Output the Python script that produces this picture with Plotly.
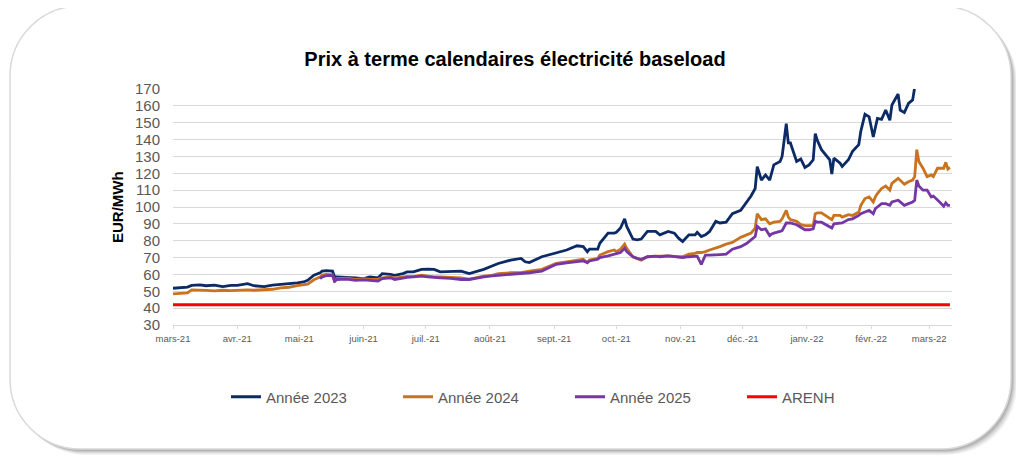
import plotly.graph_objects as go

# ---------------- data ----------------
dates = [
    "2021-03-01", "2021-03-05", "2021-03-08", "2021-03-10", "2021-03-14", "2021-03-17", "2021-03-21",
    "2021-03-25", "2021-03-29", "2021-04-01", "2021-04-06", "2021-04-09", "2021-04-14", "2021-04-18",
    "2021-04-22", "2021-04-26", "2021-04-30", "2021-05-03", "2021-05-05", "2021-05-08", "2021-05-11",
    "2021-05-12", "2021-05-14", "2021-05-17", "2021-05-18", "2021-05-19", "2021-05-24", "2021-05-28",
    "2021-06-01", "2021-06-04", "2021-06-08", "2021-06-10", "2021-06-14", "2021-06-16", "2021-06-20",
    "2021-06-22", "2021-06-25", "2021-06-29", "2021-07-02", "2021-07-05", "2021-07-08", "2021-07-13",
    "2021-07-18", "2021-07-22", "2021-07-26", "2021-07-29", "2021-08-02", "2021-08-05", "2021-08-11",
    "2021-08-16", "2021-08-18", "2021-08-20", "2021-08-26", "2021-09-02", "2021-09-07", "2021-09-12",
    "2021-09-15", "2021-09-17", "2021-09-18", "2021-09-22", "2021-09-23", "2021-09-27", "2021-09-30",
    "2021-10-01", "2021-10-03", "2021-10-05", "2021-10-06", "2021-10-09", "2021-10-11", "2021-10-13",
    "2021-10-16", "2021-10-20", "2021-10-22", "2021-10-26", "2021-10-29", "2021-10-31", "2021-11-02",
    "2021-11-05", "2021-11-08", "2021-11-09", "2021-11-11", "2021-11-13", "2021-11-15", "2021-11-18",
    "2021-11-20", "2021-11-23", "2021-11-26", "2021-11-30", "2021-12-03", "2021-12-05", "2021-12-07",
    "2021-12-08", "2021-12-10", "2021-12-12", "2021-12-14", "2021-12-15", "2021-12-16", "2021-12-19",
    "2021-12-20", "2021-12-22", "2021-12-23", "2021-12-24", "2021-12-27", "2021-12-29", "2021-12-31",
    "2022-01-02", "2022-01-04", "2022-01-05", "2022-01-06", "2022-01-08", "2022-01-10", "2022-01-12",
    "2022-01-13", "2022-01-14", "2022-01-17", "2022-01-18", "2022-01-21", "2022-01-23", "2022-01-26",
    "2022-01-27", "2022-01-29", "2022-01-31", "2022-02-02", "2022-02-03", "2022-02-04", "2022-02-06",
    "2022-02-08", "2022-02-10", "2022-02-11", "2022-02-14", "2022-02-15", "2022-02-17", "2022-02-19",
    "2022-02-21", "2022-02-22", "2022-02-23", "2022-02-24", "2022-02-26", "2022-02-28", "2022-03-02",
    "2022-03-03", "2022-03-05", "2022-03-06", "2022-03-08", "2022-03-09", "2022-03-10", "2022-03-11",
]

annee_2023 = [
    51.8, 52.0, 52.5, 53.5, 53.8, 53.3, 53.6,
    52.8, 53.5, 53.5, 54.5, 53.3, 52.8, 53.6,
    54.0, 54.3, 55.0, 55.5, 56.5, 59.5, 61.0,
    62.0, 62.3, 62.0, 58.5, 58.6, 58.5, 58.0,
    57.5, 58.5, 58.0, 60.5, 60.0, 59.5, 60.5,
    61.5, 61.5, 63.0, 63.2, 63.0, 61.5, 61.8,
    62.0, 60.5, 62.0, 63.0, 65.0, 66.5, 68.5,
    69.5, 67.5, 67.0, 70.5, 73.0, 74.5, 77.0,
    76.5, 73.5, 75.0, 75.0, 78.5, 84.5, 84.5,
    85.0, 87.5, 93.0, 88.5, 81.0, 80.5, 81.0,
    85.5, 85.5, 83.5, 85.5, 84.5, 81.5, 79.5,
    83.5, 83.5, 85.0, 82.5, 83.5, 85.5, 91.5,
    90.5, 91.0, 96.0, 98.0, 103.0, 106.5, 111.0,
    124.0, 116.0, 119.0, 116.0, 120.0, 125.0, 127.0,
    130.0, 149.5, 138.0, 138.0, 127.0, 128.5, 123.5,
    125.0, 128.0, 143.5, 139.5, 134.0, 131.0, 128.0,
    119.5, 129.0, 126.0, 124.0, 128.0, 133.0, 137.0,
    145.0, 155.0, 153.5, 141.5, 146.5, 152.5, 152.0,
    157.5, 151.5, 160.5, 167.0, 157.5, 156.0, 161.5,
    163.5, 171.0, None, None, None, None, None,
    None, None, None, None, None, None, None,
]

annee_2024 = [
    48.5, 48.8, 49.0, 50.8, 50.8, 50.5, 50.2,
    50.6, 50.4, 50.6, 50.8, 50.6, 51.0, 51.2,
    52.0, 52.4, 53.3, 53.6, 54.2, 56.8, 58.5,
    59.6, 60.0, 59.8, 55.5, 57.5, 57.8, 57.0,
    57.5, 57.0, 57.2, 58.0, 58.5, 57.8, 58.5,
    58.8, 58.7, 59.5, 59.0, 58.5, 58.6, 58.5,
    58.0, 57.2, 58.3, 59.0, 59.5, 60.5, 61.0,
    61.0, 61.5, 62.0, 63.0, 66.5, 67.5, 68.5,
    69.0, 67.0, 68.5, 69.5, 71.5, 73.5, 74.5,
    73.5, 75.0, 78.0, 75.5, 70.5, 69.5, 68.5,
    70.5, 71.0, 70.8, 71.0, 70.5, 70.5, 70.5,
    72.0, 72.5, 73.0, 73.0, 73.5, 74.5, 75.5,
    76.5, 78.0, 79.0, 82.0, 83.5, 84.5, 87.5,
    96.0, 92.5, 93.0, 90.0, 90.5, 91.0, 91.5,
    93.0, 98.0, 94.0, 92.5, 91.5, 89.5, 89.0,
    89.0, 89.0, 96.0, 96.5, 96.5, 95.0, 93.5,
    92.5, 95.0, 95.0, 94.0, 95.5, 95.0, 97.0,
    101.0, 105.0, 106.0, 103.0, 106.0, 108.0, 111.0,
    112.5, 110.0, 114.0, 117.0, 116.0, 113.5, 115.0,
    116.0, 118.0, 134.0, 127.0, 123.0, 118.0, 119.0,
    118.0, 123.0, 123.0, 123.0, 126.5, 122.5, 123.5,
]

annee_2025 = [
    None, None, None, None, None, None, None,
    None, None, None, None, None, None, None,
    None, None, None, None, None, None, 57.5,
    58.5, 59.3, 59.5, 56.0, 57.0, 57.2, 56.5,
    56.8, 56.5, 56.0, 57.5, 58.0, 57.0, 58.0,
    58.2, 58.5, 59.0, 58.6, 58.2, 58.0, 57.6,
    57.0, 57.0, 58.0, 58.5, 59.2, 59.5, 60.0,
    60.2, 60.5, 61.0, 62.0, 66.0, 66.8, 67.5,
    68.0, 67.0, 68.0, 69.0, 70.0, 71.0, 72.0,
    72.5, 73.0, 75.5, 73.5, 70.5, 69.5, 69.0,
    70.5, 70.8, 70.5, 71.0, 70.5, 70.0, 70.0,
    70.5, 70.5, 70.8, 66.0, 71.5, 71.5, 71.5,
    71.8, 72.0, 75.0, 76.5, 78.5, 80.5, 82.5,
    88.5, 86.5, 87.0, 83.0, 84.0, 84.5, 85.5,
    86.0, 90.5, 90.5, 90.5, 89.5, 88.0, 86.5,
    86.5, 87.0, 91.5, 91.0, 91.0, 89.5, 88.5,
    87.5, 90.0, 90.5, 90.5, 92.5, 93.0, 95.0,
    96.0, 97.0, 98.0, 96.0, 99.0, 100.0, 102.0,
    102.0, 101.0, 103.0, 104.0, 103.0, 101.0, 102.0,
    103.0, 104.0, 116.0, 112.5, 110.0, 110.0, 106.0,
    106.5, 104.5, 103.0, 100.5, 102.5, 101.0, 101.0,
]

arenh_dates = ["2021-03-01", "2022-03-11"]
arenh_values = [42, 42]

tick_dates = ["2021-03-01", "2021-04-01", "2021-05-01", "2021-06-01", "2021-07-01", "2021-08-01",
              "2021-09-01", "2021-10-01", "2021-11-01", "2021-12-01", "2022-01-01", "2022-02-01",
              "2022-03-01"]
tick_labels = ["mars-21", "avr.-21", "mai-21", "juin-21", "juil.-21", "août-21", "sept.-21",
               "oct.-21", "nov.-21", "déc.-21", "janv.-22", "févr.-22", "mars-22"]
y_ticks = [30, 40, 50, 60, 70, 80, 90, 100, 110, 120, 130, 140, 150, 160, 170]

# ---------------- layout geometry (pixels, page coordinates) ----------------
O = 8  # the page body margin offsets the figure by this much
W, H = 1024 - O, 464 - O
PL, PR, PT, PB = 173 - O, 952 - O, 89 - O, 325 - O


def px(x):
    return (x - O - PL) / (PR - PL)


def py(y):
    return (PB - (y - O)) / (PB - PT)


def rounded_path(l, t, r, b, rad):
    k = 0.5523 * rad
    pts = []
    pts.append(f"M {px(l + rad)},{py(t)}")
    pts.append(f"L {px(r - rad)},{py(t)}")
    pts.append(f"C {px(r - rad + k)},{py(t)} {px(r)},{py(t + rad - k)} {px(r)},{py(t + rad)}")
    pts.append(f"L {px(r)},{py(b - rad)}")
    pts.append(f"C {px(r)},{py(b - rad + k)} {px(r - rad + k)},{py(b)} {px(r - rad)},{py(b)}")
    pts.append(f"L {px(l + rad)},{py(b)}")
    pts.append(f"C {px(l + rad - k)},{py(b)} {px(l)},{py(b - rad + k)} {px(l)},{py(b - rad)}")
    pts.append(f"L {px(l)},{py(t + rad)}")
    pts.append(f"C {px(l)},{py(t + rad - k)} {px(l + rad - k)},{py(t)} {px(l + rad)},{py(t)}")
    pts.append("Z")
    return " ".join(pts)


shapes = []
# soft shadow
for off, op in [(6, 0.06), (5, 0.08), (4, 0.10), (3, 0.14), (2, 0.18)]:
    shapes.append(dict(type="path", xref="paper", yref="paper", layer="below",
                       path=rounded_path(10 + off, 6 + off, 1011 + off, 449 + off, 70),
                       fillcolor=f"rgba(90,90,90,{op})", line=dict(width=0)))
shapes.append(dict(type="path", xref="paper", yref="paper", layer="below",
                   path=rounded_path(10, 6, 1011, 449, 70),
                   fillcolor="white", line=dict(color="#d9d9d9", width=1.5)))

fig = go.Figure()

fig.add_trace(go.Scatter(x=dates, y=annee_2023, name="Année 2023", mode="lines",
                         line=dict(color="#0c2a66", width=2.8), connectgaps=False))
fig.add_trace(go.Scatter(x=dates, y=annee_2024, name="Année 2024", mode="lines",
                         line=dict(color="#c8731f", width=2.8)))
fig.add_trace(go.Scatter(x=dates, y=annee_2025, name="Année 2025", mode="lines",
                         line=dict(color="#7637a5", width=2.8)))
fig.add_trace(go.Scatter(x=arenh_dates, y=arenh_values, name="ARENH", mode="lines",
                         line=dict(color="#ff0000", width=2.8)))

fig.update_layout(
    width=W, height=H,
    margin=dict(l=PL, r=W - PR, t=PT, b=H - PB, pad=0),
    paper_bgcolor="white",
    plot_bgcolor="rgba(0,0,0,0)",
    shapes=shapes,
    title=dict(text="<b>Prix à terme calendaires électricité baseload</b>",
               x=(515 - O) / W, xref="container", xanchor="center",
               y=1 - (59 - O) / H, yref="container", yanchor="middle",
               font=dict(family="Liberation Sans, Arial, sans-serif", size=20, color="black")),
    xaxis=dict(
        type="date",
        range=["2021-03-01", "2022-03-12"],
        tickvals=tick_dates, ticktext=tick_labels,
        tickfont=dict(family="Liberation Sans, Arial, sans-serif", size=9.5, color="#595959"),
        showgrid=False, zeroline=False,
        showline=True, linecolor="#d9d9d9", linewidth=1,
        ticks="outside", ticklen=3, tickcolor="#d9d9d9",
        ticklabelstandoff=2,
    ),
    yaxis=dict(
        range=[30, 170],
        tickvals=y_ticks,
        tickfont=dict(family="Liberation Sans, Arial, sans-serif", size=15, color="#595959"),
        showgrid=True, gridcolor="#d9d9d9", gridwidth=1,
        zeroline=False, showline=False,
        ticks="", ticklabelstandoff=12,
    ),
    showlegend=True,
    legend=dict(
        orientation="h",
        x=px(226), xanchor="left",
        y=py(397), yanchor="middle",
        font=dict(family="Liberation Sans, Arial, sans-serif", size=15, color="#595959"),
        entrywidth=127, entrywidthmode="pixels",
        bgcolor="rgba(0,0,0,0)",
        traceorder="normal",
    ),
    annotations=[dict(
        text="<b>EUR/MWh</b>", textangle=-90,
        xref="paper", yref="paper", x=px(117), y=py(207),
        xanchor="center", yanchor="middle", showarrow=False,
        font=dict(family="Liberation Sans, Arial, sans-serif", size=15, color="black"),
    )],
)

fig.write_html("out.html")
